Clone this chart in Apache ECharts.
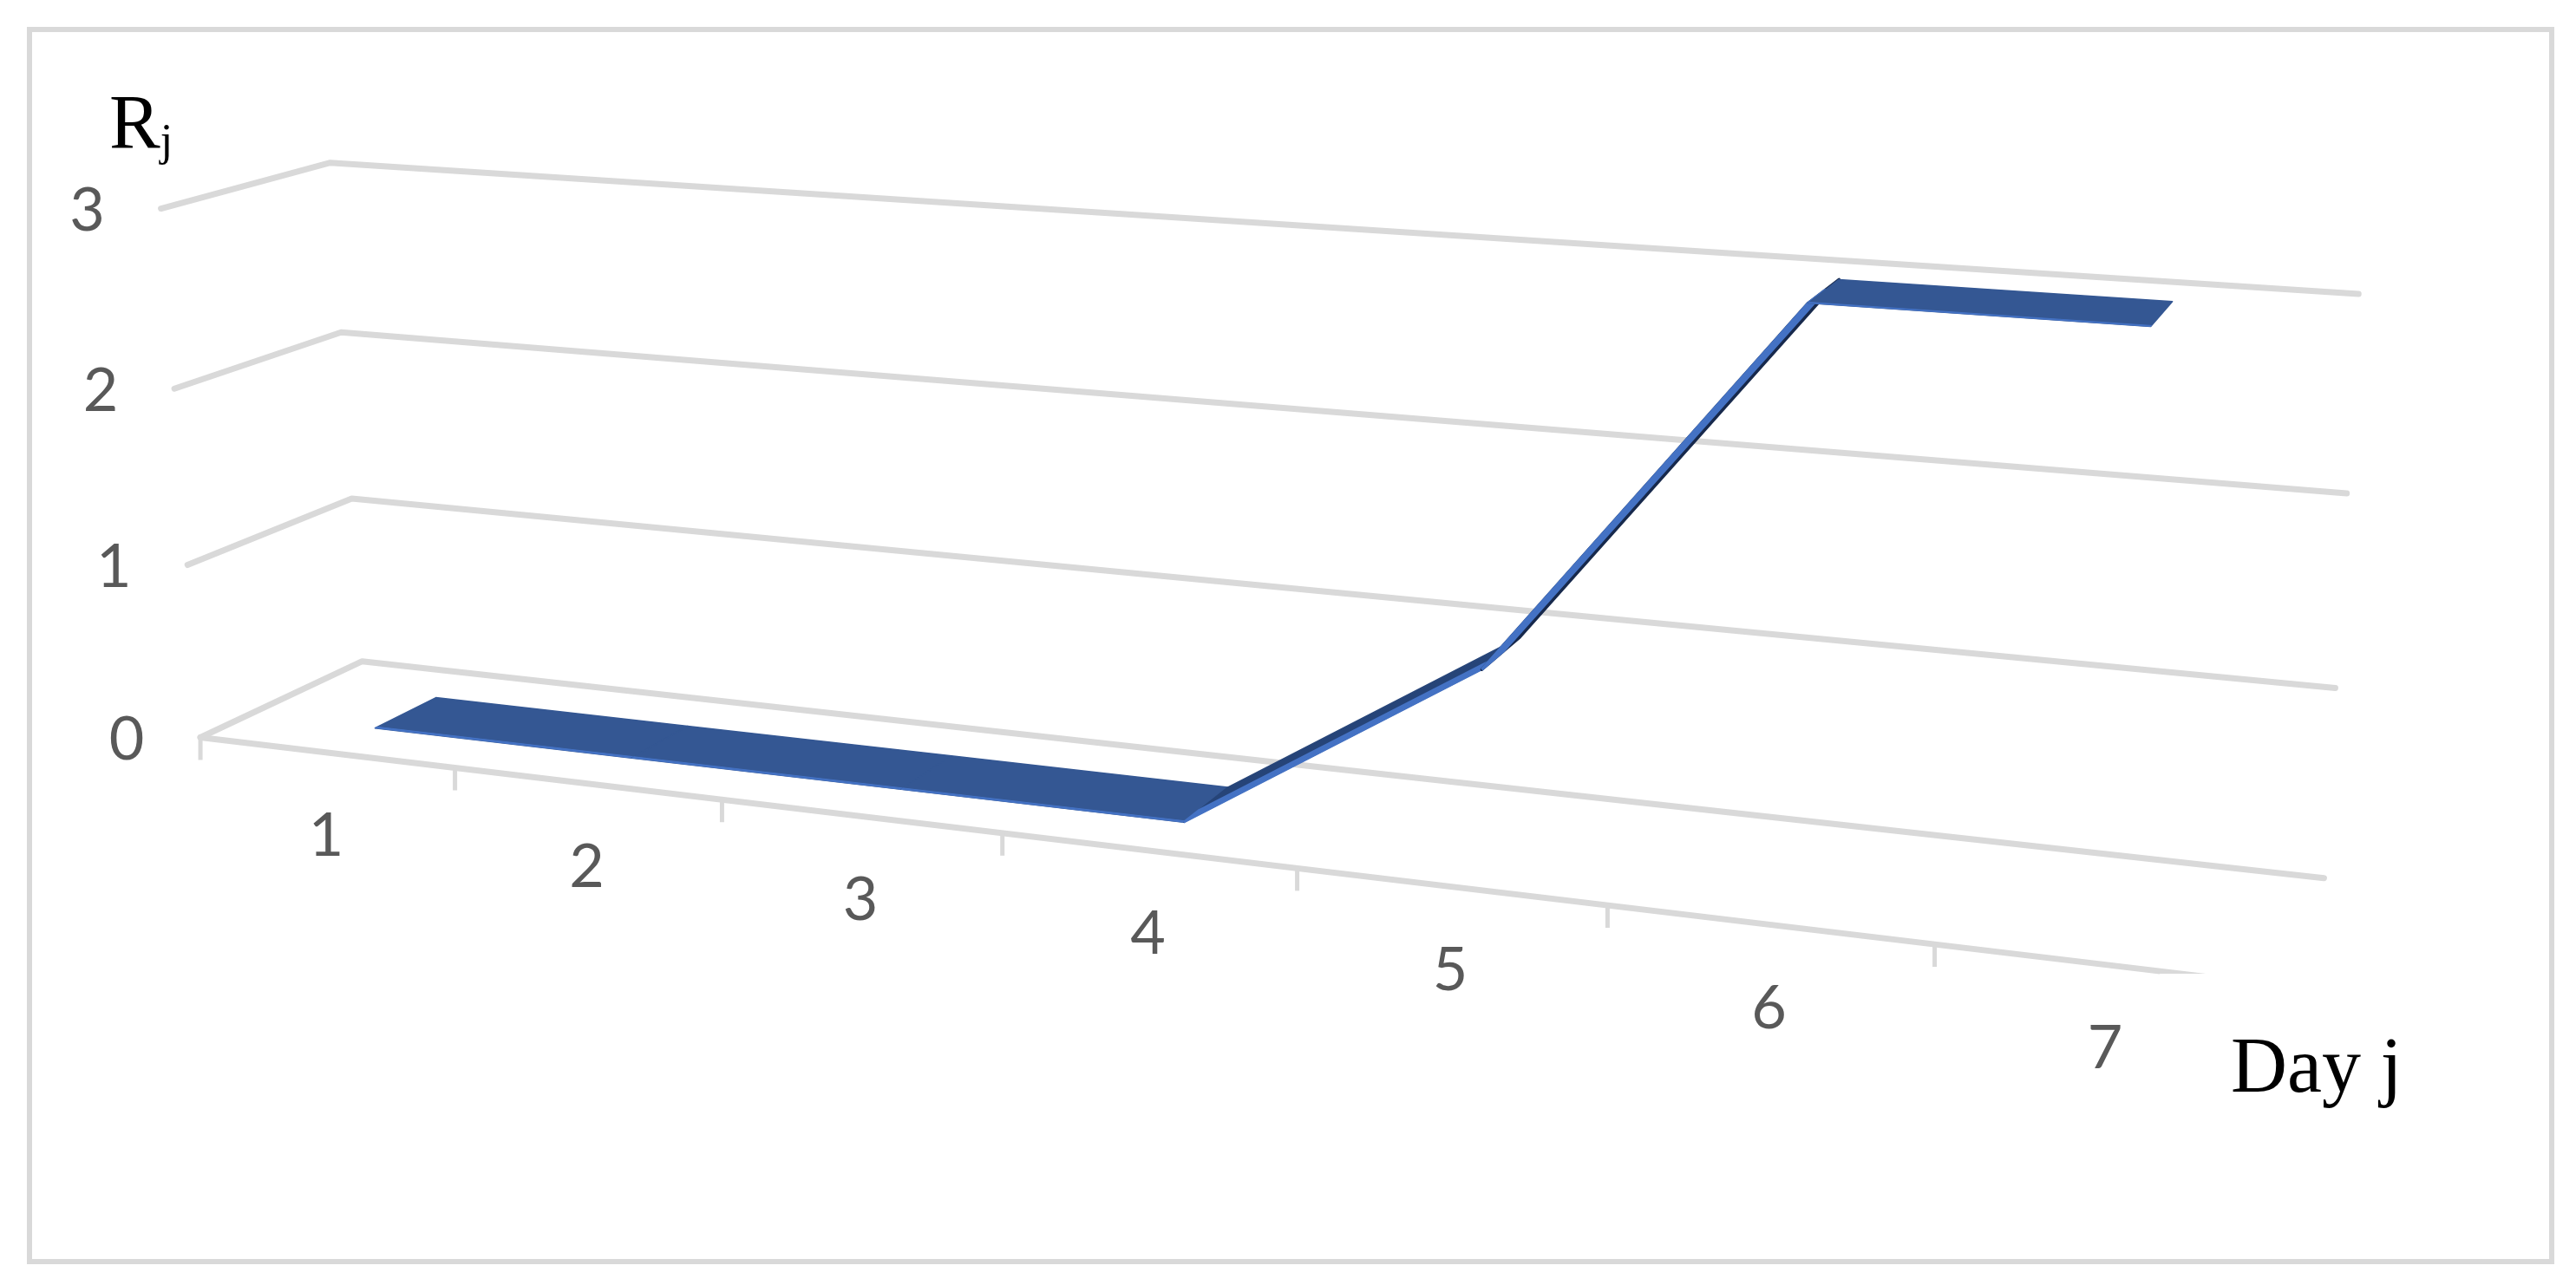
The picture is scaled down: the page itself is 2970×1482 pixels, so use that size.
<!DOCTYPE html>
<html><head><meta charset="utf-8">
<style>html,body{margin:0;padding:0;background:#fff}#c{width:2970px;height:1482px}</style>
<script src="https://cdn.jsdelivr.net/npm/echarts@6/dist/echarts.min.js"></script>
</head><body><div id="c"></div>
<script>
// ---- data ----
const days = ['1','2','3','4','5','6','7'];
const rj = [0,0,0,0,1,3,3];
const valueTicks = [0,1,2,3];
const yAxisName = 'R';
const yAxisSub = 'j';
const xAxisName = 'Day j';

// ---- perspective of the 3D box (u=day position, v=value, w=depth) ----
const SCALE = 2970/1568, UNIT = 100;
const M = {x:[122,148.5,-9.05,112.5], y:[449,7.6,-108.7,-20.7], h:[1,-0.0233,-0.0107,0.0637]};
function project(api,u,v,w){
  const p = api.coord([u,v]);
  const U = p[0]/UNIT, V = (3*UNIT-p[1])/UNIT;
  const h = M.h[0]+M.h[1]*U+M.h[2]*V+M.h[3]*w;
  return [SCALE*(M.x[0]+M.x[1]*U+M.x[2]*V+M.x[3]*w)/h,
          SCALE*(M.y[0]+M.y[1]*U+M.y[2]*V+M.y[3]*w)/h];
}
const GRID='#D9D9D9', LABEL='#595959';
const W0=0.3, W1=0.69;
const segStyle = [
  {top:'#345793',edge:0.014,topW:1.5,edgeW:1},{top:'#345793',edge:0.014,topW:1.5,edgeW:1},{top:'#345793',edge:0.014,topW:1.5,edgeW:1},
  {top:'#264478',edge:0.13,topW:1.5,edgeW:2.5},{top:'#17294C',edge:0.22,topW:3.5,edgeW:3.5},{top:'#345793',edge:0.014,topW:1.5,edgeW:1}
];

function base(name,data,renderItem,z){
  return {name,type:'custom',coordinateSystem:'cartesian2d',data,renderItem,clip:false,silent:true,z,
    encode:{x:0,y:1},animation:false};
}
const lineStyle={stroke:GRID,lineWidth:7,lineCap:'round',lineJoin:'round',fill:null};

const gridSeries = base('gridlines',valueTicks.map(v=>[0,v]),(p,api)=>{
  const v=api.value(1);
  const children=[{type:'polyline',shape:{points:[project(api,0,v,0),project(api,0,v,1),project(api,7,v,1)]},style:lineStyle}];
  if(v===0) children.push({type:'polyline',shape:{points:[project(api,0,0,0),project(api,7,0,0)]},style:lineStyle});
  return {type:'group',children};
},2);

const tickSeries = base('ticks',[0,1,2,3,4,5,6,7].map(i=>[i,0]),(p,api)=>{
  const a=project(api,api.value(0),0,0);
  return {type:'line',shape:{x1:a[0],y1:a[1],x2:a[0],y2:a[1]+26},style:{stroke:GRID,lineWidth:5}};
},2);

const dayLabelSeries = base('dayLabels',days.map((d,i)=>[i+0.5,0,d]),(p,api)=>{
  const a=project(api,api.value(0),0,0);
  return {type:'text',style:{text:days[p.dataIndex],x:a[0],y:a[1]+97,align:'center',verticalAlign:'middle',
    fontFamily:'Lato',fontSize:70,fill:LABEL}};
},3);

const valueLabelSeries = base('valueLabels',valueTicks.map(v=>[0,v]),(p,api)=>{
  const v=api.value(1), a=project(api,0,v,0);
  return {type:'text',style:{text:String(v),x:a[0]-85,y:a[1]+3,align:'center',verticalAlign:'middle',
    fontFamily:'Lato',fontSize:70,fill:LABEL}};
},3);

const ribbonSeries = base('Rj',rj.slice(0,-1).map((v,i)=>[i+0.5,v,rj[i+1]]),(p,api)=>{
  const u=api.value(0), a=api.value(1), b=api.value(2), s=segStyle[p.dataIndex];
  const q=(uu,vv,w)=>project(api,uu,vv,w);
  return {type:'group',children:[
    {type:'polygon',shape:{points:[q(u,a,W0),q(u+1,b,W0),q(u+1,b,W1),q(u,a,W1)]},style:{fill:s.top,stroke:s.top,lineWidth:s.topW,lineJoin:'round'}},
    {type:'polygon',shape:{points:[q(u,a,W0),q(u+1,b,W0),q(u+1,b,W0+s.edge),q(u,a,W0+s.edge)]},style:{fill:'#4472C4',stroke:'#4472C4',lineWidth:s.edgeW}}
  ]};
},4);

const chart = echarts.init(document.getElementById('c'),null,{renderer:'canvas'});
chart.setOption({
  animation:false,
  backgroundColor:'#fff',
  grid:{left:0,top:0,width:7*UNIT,height:3*UNIT,show:false},
  xAxis:{type:'value',min:0,max:7,show:false},
  yAxis:{type:'value',min:0,max:3,show:false},
  series:[gridSeries,tickSeries,dayLabelSeries,valueLabelSeries,ribbonSeries],
  graphic:[
    {type:'rect',z:1,shape:{x:34,y:34,width:2908,height:1421},style:{fill:null,stroke:GRID,lineWidth:6}},
    {type:'rect',z:10,shape:{x:2490,y:1123,width:320,height:200},style:{fill:'#fff'}},
    {type:'text',z:11,x:126,y:101,style:{text:'{r|'+yAxisName+'}{s|'+yAxisSub+'}',
      rich:{r:{fontFamily:'Liberation Serif',fontSize:88,fill:'#000',verticalAlign:'bottom',lineHeight:90},
            s:{fontFamily:'Liberation Serif',fontSize:52,fill:'#000',verticalAlign:'bottom',lineHeight:90}}}},
    {type:'text',z:11,x:2572,y:1190,style:{text:xAxisName,fontFamily:'Liberation Serif',fontSize:90,fill:'#000'}}
  ]
});
</script></body></html>
